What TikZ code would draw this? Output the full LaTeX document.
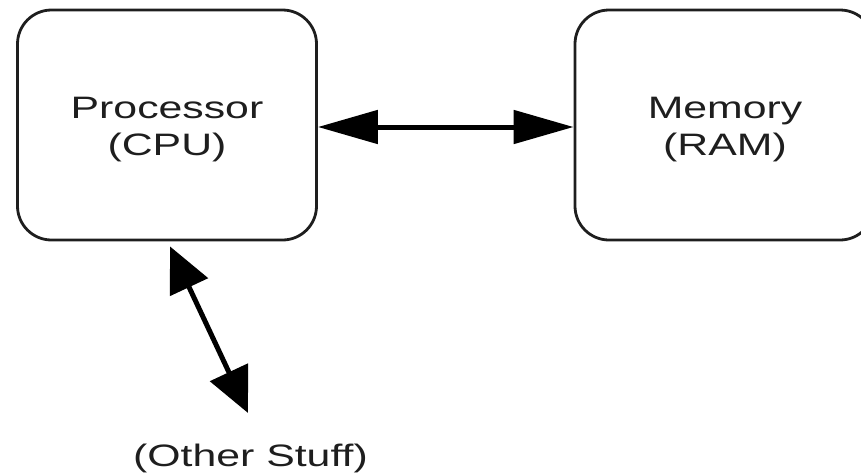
\documentclass[tikz,border=0pt]{standalone}
\usepackage{fontspec}
\setmainfont{Liberation Sans}
\usetikzlibrary{arrows.meta}
\definecolor{ink}{HTML}{1E1E1E}
\newcommand{\lbltext}[1]{\scalebox{1.38}[1]{\fontsize{31}{37}\selectfont\begin{tabular}[t]{@{}c@{}}#1\end{tabular}}}
\tikzset{
  unitbox/.style={draw=ink, line width=2.8pt, rounded corners=34pt, minimum width=299pt, minimum height=230pt, inner sep=0pt},
  lbl/.style={text=ink, anchor=base, inner sep=0pt},
  link/.style={draw=black, line width=5pt},
  hhead/.style={{Triangle[length=60pt,width=33pt]}-{Triangle[length=60pt,width=33pt]}},
  dhead/.style={{Triangle[length=45pt,width=41pt]}-{Triangle[length=45pt,width=41pt]}}
}
\begin{document}
\begin{tikzpicture}[x=1pt,y=-1pt]
\useasboundingbox (0,0) rectangle (861,474);
\clip (0,0) rectangle (861,474);
\node[unitbox] (cpu) at (167,125) {};
\node[unitbox] (mem) at (724.5,125) {};
\node[lbl] (cputxt) at (167,118) {\lbltext{Processor\\(CPU)}};
\node[lbl] (memtxt) at (725,118) {\lbltext{Memory\\(RAM)}};
\node[lbl] (other) at (250.5,466) {\lbltext{(Other Stuff)}};
\coordinate (otop) at (248,413);
\draw[link, hhead] ([yshift=-2pt]cpu.east) -- ([yshift=-2pt]mem.west);
\draw[link, dhead] ([shift={(3,5)}]cpu.south) -- (otop);
\end{tikzpicture}
\end{document}
